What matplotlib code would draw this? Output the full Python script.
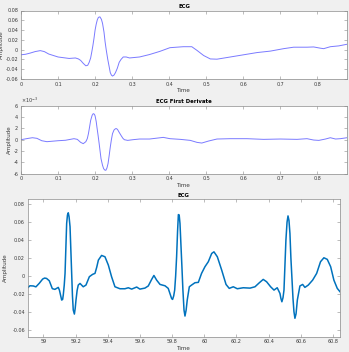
import matplotlib
matplotlib.use("Agg")
import matplotlib.pyplot as plt
import numpy as np

# ---- Panel 1: ECG (one beat) ----
ecg_t = [0.0, 0.012, 0.025, 0.038, 0.052, 0.063, 0.075, 0.1, 0.13, 0.147, 0.155, 0.161,
         0.168, 0.175, 0.18, 0.184, 0.188, 0.191, 0.194, 0.197, 0.2, 0.203, 0.206, 0.209,
         0.213, 0.217, 0.22, 0.224, 0.227, 0.23, 0.234, 0.238, 0.241, 0.244, 0.247, 0.251,
         0.255, 0.26, 0.265, 0.27, 0.276, 0.284, 0.293, 0.32, 0.347, 0.375, 0.402, 0.438,
         0.461, 0.475, 0.493, 0.511, 0.529, 0.565, 0.601, 0.637, 0.673, 0.709, 0.736,
         0.772, 0.79, 0.808, 0.817, 0.835, 0.858, 0.88]
ecg_v = [-0.0105, -0.0095, -0.007, -0.004, -0.002, -0.004, -0.009, -0.015, -0.018, -0.017,
         -0.019, -0.022, -0.028, -0.033, -0.032, -0.026, -0.017, -0.005, 0.008, 0.023,
         0.04, 0.052, 0.061, 0.066, 0.067, 0.062, 0.054, 0.036, 0.016, 0.0, -0.019, -0.035,
         -0.047, -0.052, -0.054, -0.052, -0.047, -0.038, -0.026, -0.02, -0.015, -0.015,
         -0.017, -0.015, -0.010, -0.0035, 0.004, 0.006, 0.006, -0.0015, -0.012, -0.019,
         -0.0195, -0.015, -0.0105, -0.006, -0.003, 0.002, 0.005, 0.005, 0.0055, 0.003,
         0.002, 0.006, 0.0077, 0.011]

# ---- Panel 2: ECG first derivative (x1e-3) ----
der_t = [0.0, 0.02, 0.031, 0.043, 0.056, 0.07, 0.1, 0.12, 0.143, 0.152, 0.161, 0.168,
         0.175, 0.179, 0.182, 0.185, 0.188, 0.192, 0.195, 0.198, 0.2, 0.203, 0.205, 0.208,
         0.211, 0.214, 0.216, 0.22, 0.223, 0.226, 0.229, 0.232, 0.235, 0.238, 0.241, 0.244,
         0.247, 0.251, 0.255, 0.258, 0.261, 0.265, 0.27, 0.275, 0.279, 0.288, 0.302, 0.32,
         0.347, 0.37, 0.384, 0.402, 0.43, 0.457, 0.475, 0.488, 0.506, 0.529, 0.565, 0.61,
         0.655, 0.7, 0.745, 0.772, 0.79, 0.804, 0.822, 0.835, 0.849, 0.862, 0.88]
der_v = [0.0, 0.24, 0.35, 0.24, -0.18, -0.35, -0.18, -0.1, 0.18, 0.06, -0.47, -0.7,
         -0.35, 0.2, 1.06, 2.2, 3.4, 4.3, 4.6, 4.5, 4.2, 3.2, 2.2, 0.8, -0.7, -2.3, -3.35,
         -4.5, -5.1, -5.35, -5.4, -5.0, -4.2, -2.8, -1.3, 0.0, 1.06, 1.7, 1.94, 1.95, 1.76,
         1.3, 0.76, 0.25, 0.0, -0.12, 0.0, 0.12, 0.12, 0.3, 0.41, 0.18, 0.06, -0.12, -0.47,
         -0.59, -0.24, 0.12, 0.18, 0.18, 0.06, 0.12, 0.06, 0.18, -0.06, -0.12, 0.12, 0.35,
         0.12, 0.18, 0.35]

# ---- Panel 3: ECG (several beats) ----
ecg2_t = [58.903, 58.917, 58.938, 58.954, 58.975, 58.996, 59.008, 59.02, 59.037, 59.056,
          59.072, 59.093, 59.10, 59.108, 59.114, 59.12, 59.124, 59.13, 59.135, 59.14,
          59.145, 59.15, 59.155, 59.16, 59.166, 59.171, 59.176, 59.181, 59.186, 59.193,
          59.198, 59.203, 59.21, 59.217, 59.228, 59.248, 59.265, 59.286, 59.306, 59.321,
          59.332, 59.342, 59.362, 59.383, 59.404, 59.424, 59.445, 59.476, 59.507, 59.528,
          59.549, 59.58, 59.60, 59.631, 59.652, 59.673, 59.687, 59.704, 59.725, 59.756,
          59.776, 59.79, 59.797, 59.803, 59.81, 59.816, 59.822, 59.828, 59.834, 59.839,
          59.844, 59.849, 59.855, 59.861, 59.867, 59.874, 59.88, 59.887, 59.894, 59.907,
          59.921, 59.942, 59.963, 59.983, 60.004, 60.025, 60.046, 60.06, 60.081, 60.108,
          60.135, 60.155, 60.18, 60.205, 60.242, 60.284, 60.315, 60.342, 60.366, 60.387,
          60.412, 60.433, 60.453, 60.47, 60.476, 60.482, 60.489, 60.495, 60.501, 60.507,
          60.514, 60.52, 60.526, 60.532, 60.538, 60.545, 60.551, 60.557, 60.563, 60.57,
          60.578, 60.594, 60.611, 60.625, 60.646, 60.673, 60.698, 60.722, 60.743, 60.764,
          60.785, 60.805, 60.826, 60.843]
ecg2_v = [-0.013, -0.0108, -0.011, -0.012, -0.008, -0.0033, -0.0022, -0.0026, -0.0052,
          -0.014, -0.0148, -0.0126, -0.0156, -0.022, -0.0267, -0.026, -0.021, -0.01, 0.003,
          0.03, 0.0586, 0.068, 0.0705, 0.066, 0.055, 0.03, 0.003, -0.022, -0.0378, -0.0423,
          -0.036, -0.0267, -0.016, -0.010, -0.0082, -0.0119, -0.010, -0.0007, 0.0019, 0.003,
          0.01, 0.0178, 0.023, 0.0215, 0.0122, -0.0007, -0.0119, -0.0141, -0.0141, -0.013,
          -0.0145, -0.0122, -0.0145, -0.0134, -0.011, -0.0037, 0.0007, -0.0045, -0.0093,
          -0.0108, -0.0137, -0.0211, -0.025, -0.026, -0.022, -0.0156, 0.0, 0.0215, 0.05,
          0.0685, 0.068, 0.0586, 0.035, 0.0104, -0.015, -0.0378, -0.0445, -0.038, -0.0267,
          -0.0119, -0.010, -0.0074, -0.007, 0.003, 0.0104, 0.016, 0.0252, 0.027, 0.0215,
          0.0067, -0.0093, -0.0137, -0.0119, -0.0141, -0.013, -0.0134, -0.0119, -0.0074,
          -0.0037, -0.0063, -0.0119, -0.0156, -0.013, -0.0193, -0.025, -0.0286, -0.024,
          -0.0156, 0.012, 0.040, 0.06, 0.067, 0.062, 0.0475, 0.02, -0.0045, -0.025, -0.0397,
          -0.047, -0.042, -0.0267, -0.011, -0.0093, -0.0126, -0.010, -0.0045, 0.003, 0.016,
          0.0204, 0.0186, 0.0104, -0.0045, -0.0137, -0.0174]

top_xticks = [0, 0.1, 0.2, 0.3, 0.4, 0.5, 0.6, 0.7, 0.8]
top_yticks = [-0.06, -0.04, -0.02, 0, 0.02, 0.04, 0.06, 0.08]
der_yticks = [-6, -4, -2, 0, 2, 4, 6]
bot_xticks = [59, 59.2, 59.4, 59.6, 59.8, 60, 60.2, 60.4, 60.6, 60.8]
bot_yticks = [-0.06, -0.04, -0.02, 0, 0.02, 0.04, 0.06, 0.08]

W, H = 349, 352
fig = plt.figure(figsize=(W / 100, H / 100), dpi=100)
fig.patch.set_facecolor("#f0f0f0")

FS = 3.5
SPINE = "#8a8a8a"


def style(ax):
    ax.set_facecolor("white")
    for s in ax.spines.values():
        s.set_color(SPINE)
        s.set_linewidth(0.5)
    ax.tick_params(direction="in", length=2, width=0.4, colors=SPINE,
                   labelcolor="#3a3a3a", labelsize=FS, top=True, right=True, pad=2)


def fmt(v):
    return "%g" % v


def rect(x0, y0, x1, y1):
    return [x0 / W, 1 - y1 / H, (x1 - x0) / W, (y1 - y0) / H]


# Panel 1
ax1 = fig.add_axes(rect(21, 10.5, 347, 79))
style(ax1)
ax1.plot(ecg_t, ecg_v, color="#7a7aff", lw=0.7)
ax1.set_xlim(0, 0.88)
ax1.set_ylim(-0.06, 0.08)
ax1.set_xticks(top_xticks)
ax1.set_xticklabels([fmt(v) for v in top_xticks])
ax1.set_yticks(top_yticks)
ax1.set_yticklabels([fmt(v) for v in top_yticks])
ax1.set_title("ECG", fontsize=FS + 0.4, fontweight="bold", pad=2)
ax1.set_xlabel("Time", fontsize=FS + 0.6, labelpad=1, color="#3a3a3a")
ax1.set_ylabel("Amplitude", fontsize=FS + 0.6, labelpad=1, color="#3a3a3a")

# Panel 2
ax2 = fig.add_axes(rect(21, 105.7, 347, 173.7))
style(ax2)
ax2.plot(der_t, np.array(der_v) * 1e-3, color="#7a7aff", lw=0.7)
ax2.set_xlim(0, 0.88)
ax2.set_ylim(-6e-3, 6e-3)
ax2.set_xticks(top_xticks)
ax2.set_xticklabels([fmt(v) for v in top_xticks])
ax2.set_yticks([v * 1e-3 for v in der_yticks])
ax2.set_yticklabels([fmt(v) for v in der_yticks])
ax2.text(0.0, 1.01, r"$\times10^{-3}$", transform=ax2.transAxes, fontsize=FS,
         color="#3a3a3a", ha="left", va="bottom")
ax2.set_title("ECG First Derivate", fontsize=FS + 0.4, fontweight="bold", pad=2)
ax2.set_xlabel("Time", fontsize=FS + 0.6, labelpad=1, color="#3a3a3a")
ax2.set_ylabel("Amplitude", fontsize=FS + 0.6, labelpad=1, color="#3a3a3a")

# Panel 3
ax3 = fig.add_axes(rect(27.7, 199.3, 340, 336.7))
style(ax3)
ax3.plot(ecg2_t, ecg2_v, color="#0072BD", lw=1.1)
ax3.set_xlim(58.903, 60.843)
ax3.set_ylim(-0.0675, 0.0855)
ax3.set_xticks(bot_xticks)
ax3.set_xticklabels([fmt(v) for v in bot_xticks])
ax3.set_yticks(bot_yticks)
ax3.set_yticklabels([fmt(v) for v in bot_yticks])
ax3.set_title("ECG", fontsize=FS + 0.4, fontweight="bold", pad=2)
ax3.set_xlabel("Time", fontsize=FS + 0.6, labelpad=1, color="#3a3a3a")
ax3.set_ylabel("Amplitude", fontsize=FS + 0.6, labelpad=3, color="#3a3a3a")

fig.savefig("out.png", dpi=100, facecolor=fig.get_facecolor())
